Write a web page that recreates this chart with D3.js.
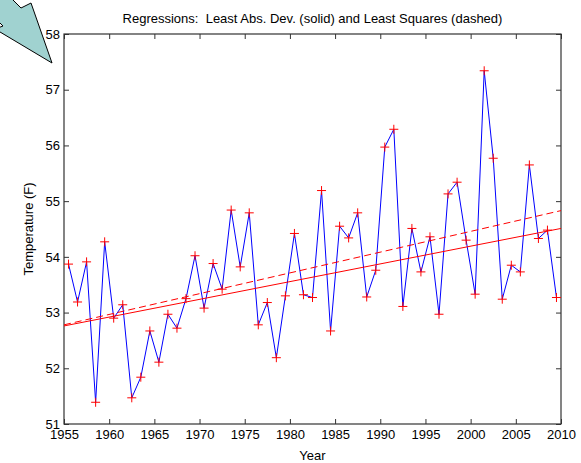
<!DOCTYPE html>
<html><head><meta charset="utf-8">
<script src="https://cdn.jsdelivr.net/npm/d3@7"></script>
<style>
body{margin:0;background:#fff;}
text{font-family:"Liberation Sans",Arial,sans-serif;}
</style></head>
<body><svg id="c" width="581" height="463"></svg>
<script>
const years = d3.range(1955, 2010);
const temps = [53.87,53.19,53.91,51.39,54.27,52.90,53.14,51.47,51.84,52.67,
  52.11,52.97,52.72,53.25,54.02,53.08,53.88,53.42,54.84,53.82,
  54.79,52.78,53.18,52.19,53.30,54.42,53.32,53.27,55.19,52.67,
  54.55,54.34,54.79,53.28,53.76,55.97,56.29,53.11,54.51,53.73,
  54.36,52.97,55.13,55.34,54.30,53.33,57.34,55.77,53.24,53.85,
  53.73,55.65,54.33,54.48,53.27];
const ladLine = [[1955, 52.76], [2010, 54.51]];
const lsLine = [[1955, 52.78], [2010, 54.83]];
const xTicks = d3.range(1955, 2011, 5);
const yTicks = d3.range(51, 59, 1);
const title = "Regressions:  Least Abs. Dev. (solid) and Least Squares (dashed)";
const xLabel = "Year", yLabel = "Temperature (F)";

const L = 64, R = 561, T = 34, B = 424;
const svg = d3.select("#c");
const x = d3.scaleLinear().domain([1955, 2010]).range([L, R]);
const y = d3.scaleLinear().domain([51, 58]).range([B, T]);
const axisCol = "#333";

// arrow (annotation)
svg.append("polygon")
  .attr("points", "-19,-32 21,8 31,3 52,63 -5,29 3,26 -30,-7")
  .attr("fill", "#a0d2d0").attr("stroke", "#000").attr("stroke-width", 1);

const fs = 13;
function styleAxis(g){
  g.select(".domain").remove();
  g.selectAll(".tick line").attr("stroke", axisCol);
  g.selectAll(".tick text").attr("fill", "#000").style("font-size", fs + "px")
    .style("font-family", '"Liberation Sans",Arial,sans-serif');
}
const tl = 5;
svg.append("g").attr("transform", `translate(0,${B})`)
  .call(d3.axisBottom(x).tickValues(xTicks).tickFormat(d3.format("d")).tickSizeInner(-tl).tickSizeOuter(0).tickPadding(6))
  .call(styleAxis);
svg.append("g").attr("transform", `translate(0,${T})`)
  .call(d3.axisTop(x).tickValues(xTicks).tickFormat("").tickSizeInner(-tl).tickSizeOuter(0))
  .call(styleAxis);
svg.append("g").attr("transform", `translate(${L},0)`)
  .call(d3.axisLeft(y).tickValues(yTicks).tickFormat(d3.format("d")).tickSizeInner(-tl).tickSizeOuter(0).tickPadding(4))
  .call(styleAxis);
svg.append("g").attr("transform", `translate(${R},0)`)
  .call(d3.axisRight(y).tickValues(yTicks).tickFormat("").tickSizeInner(-tl).tickSizeOuter(0))
  .call(styleAxis);

svg.append("rect").attr("x", L).attr("y", T).attr("width", R - L).attr("height", B - T)
  .attr("fill", "none").attr("stroke", axisCol).attr("stroke-width", 1.2);

const line = d3.line().x(d => x(d[0])).y(d => y(d[1]));
const pts = years.map((yr, i) => [yr + 0.5, temps[i]]);
svg.append("path").datum(pts).attr("d", line).attr("fill", "none").attr("stroke", "#0000ff").attr("stroke-width", 1);
svg.append("path").datum(ladLine).attr("d", line).attr("fill", "none").attr("stroke", "#ff0000").attr("stroke-width", 1);
svg.append("path").datum(lsLine).attr("d", line).attr("fill", "none").attr("stroke", "#ff0000").attr("stroke-width", 1).attr("stroke-dasharray", "7,4");

const m = 4.5;
const mk = svg.append("g").selectAll("g").data(pts).join("g")
  .attr("transform", d => `translate(${x(d[0])},${y(d[1])})`);
mk.append("line").attr("x1", -m).attr("x2", m).attr("stroke", "#ff0000").attr("stroke-width", 1);
mk.append("line").attr("y1", -m).attr("y2", m).attr("stroke", "#ff0000").attr("stroke-width", 1);

svg.append("text").attr("x", (L + R) / 2).attr("y", 23).attr("text-anchor", "middle")
  .style("font-size", fs + "px").style("white-space", "pre").text(title);
svg.append("text").attr("x", (L + R) / 2).attr("y", 460).attr("text-anchor", "middle")
  .style("font-size", fs + "px").text(xLabel);
svg.append("text").attr("transform", `translate(33,${(T + B) / 2}) rotate(-90)`).attr("text-anchor", "middle")
  .style("font-size", fs + "px").text(yLabel);
</script></body></html>
